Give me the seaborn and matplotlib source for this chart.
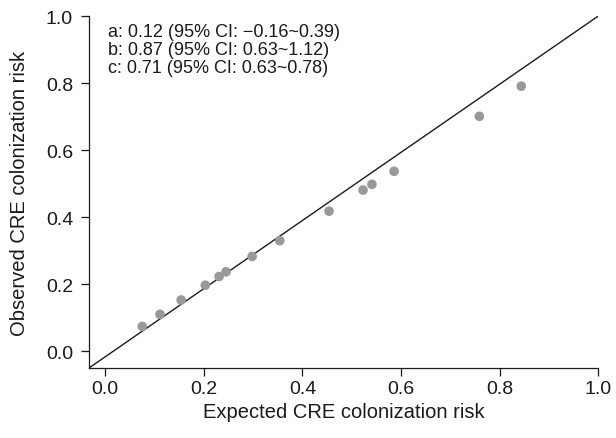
import seaborn as sns
import matplotlib.pyplot as plt
import pandas as pd

expected = [0.075, 0.111, 0.154, 0.203, 0.231, 0.245, 0.298, 0.354, 0.454, 0.523, 0.541, 0.586, 0.759, 0.844]
observed = [0.074, 0.110, 0.153, 0.197, 0.223, 0.237, 0.283, 0.330, 0.418, 0.481, 0.498, 0.537, 0.701, 0.791]
ticks = [0.0, 0.2, 0.4, 0.6, 0.8, 1.0]
notes = [
    "a: 0.12 (95% CI: \u22120.16~0.39)",
    "b: 0.87 (95% CI: 0.63~1.12)",
    "c: 0.71 (95% CI: 0.63~0.78)",
]

df = pd.DataFrame({"expected": expected, "observed": observed})

sns.set_style("ticks")
plt.rcParams["font.family"] = ["Liberation Sans", "DejaVu Sans"]
ink = "#1a1a1a"

fig = plt.figure(figsize=(6.16, 4.39), dpi=100)
ax = fig.add_axes([0.1445, 0.1595, 0.8265, 0.8015])

# reference line, corner to corner
ax.plot([0, 1], [0, 1], color=ink, linewidth=1.0, zorder=1, transform=ax.transAxes)
sns.scatterplot(data=df, x="expected", y="observed", color="#999999",
                s=48, edgecolor="none", ax=ax, zorder=2)

ax.set_xlim(-0.033, 1.0)
ax.set_ylim(-0.05, 1.0)
ax.set_xticks(ticks)
ax.set_yticks(ticks)
ax.set_xticklabels([f"{t:.1f}" for t in ticks])
ax.set_yticklabels([f"{t:.1f}" for t in ticks])
ax.tick_params(labelsize=14, length=5.5, width=0.9, color=ink, labelcolor=ink)
ax.tick_params(axis="x", pad=3)
ax.tick_params(axis="y", pad=6)
ax.set_xlabel("Expected CRE colonization risk", fontsize=14.5, color=ink, labelpad=4)
ax.set_ylabel("Observed CRE colonization risk", fontsize=14.5, color=ink, labelpad=12)
for s in ["left", "bottom"]:
    ax.spines[s].set_color(ink)
    ax.spines[s].set_linewidth(0.9)
sns.despine(ax=ax)

for i, note in enumerate(notes):
    ax.text(0.006, 0.940 - 0.0535 * i, note, fontsize=13, color=ink,
            va="baseline", ha="left")

fig.savefig("out.png", dpi=100)
